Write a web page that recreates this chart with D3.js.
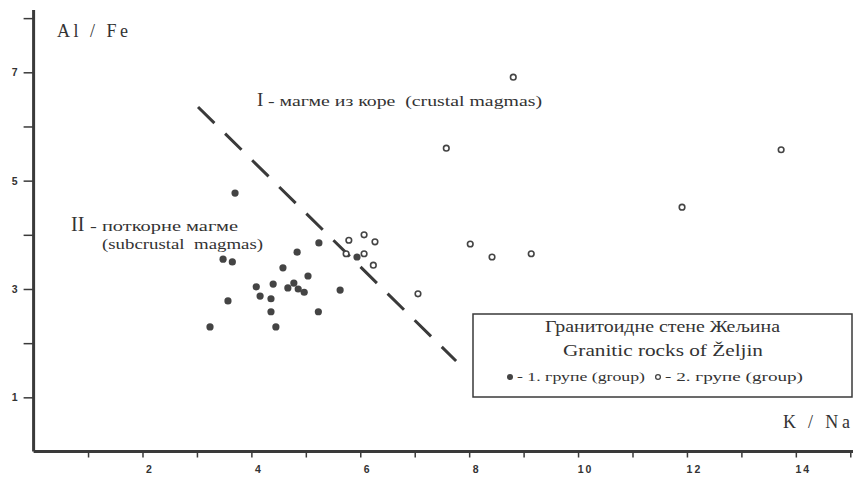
<!DOCTYPE html>
<html>
<head>
<meta charset="utf-8">
<script src="https://cdn.jsdelivr.net/npm/d3@7"></script>
<style>
  body { margin: 0; background: #fff; }
  svg { display: block; }
  .tick text { font-family: "Liberation Sans", Arial, sans-serif; font-weight: bold; font-size: 10.5px; fill: #333; }
  .lbl { font-family: "Liberation Serif", "Times New Roman", serif; fill: #333; }
</style>
</head>
<body>
<div id="chart"></div>
<script>
// data
// group 1 (filled dots): K/Na and Al/Fe
const group1K  = [3.70, 3.48, 3.65, 4.58, 4.84, 5.24, 5.04, 4.09, 4.40, 4.16, 4.36, 4.36, 4.67, 4.78, 4.86, 4.97, 3.57, 5.23, 3.24, 4.45, 5.63, 5.94];
const group1Al = [4.77, 3.55, 3.50, 3.39, 3.68, 3.85, 3.24, 3.04, 3.09, 2.87, 2.82, 2.58, 3.02, 3.11, 3.00, 2.94, 2.78, 2.58, 2.30, 2.30, 2.98, 3.59];
// group 2 (open dots)
const group2K  = [5.79, 6.07, 6.27, 5.74, 6.07, 6.24, 7.06, 7.58, 8.81, 13.73, 11.91, 8.02, 8.42, 9.14];
const group2Al = [3.90, 4.00, 3.87, 3.65, 3.65, 3.44, 2.91, 5.60, 6.91, 5.57, 4.51, 3.83, 3.59, 3.65];
// dashed boundary between crustal and subcrustal magmas
const dividerK  = [3.02, 7.76];
const dividerAl = [6.36, 1.67];
// axis ticks
const xTicks  = [1, 2, 3, 4, 5, 6, 7, 8, 9, 10, 11, 12, 13, 14, 15];
const xLabels = [2, 4, 6, 8, 10, 12, 14];
const yTicks  = [1, 2, 3, 4, 5, 6, 7, 8];
const yLabels = [1, 3, 5, 7];

var width = 856,
    height = 480,
    ink = "#3a3a3a";

var svg = d3.select("#chart")
  .append("svg")
    .attr("width", width)
    .attr("height", height);

var x = d3.scaleLinear().domain([0, 15.05]).range([33.6, 853]);
var y = d3.scaleLinear().domain([0, 8.15]).range([451.5, 10]);

// axes
var xAxis = svg.append("g")
    .attr("transform", "translate(0," + y(0) + ")")
    .call(d3.axisBottom(x)
      .tickValues(xTicks)
      .tickSize(6)
      .tickPadding(8)
      .tickFormat(function(d) { return xLabels.indexOf(d) >= 0 ? d : ""; }));
xAxis.select(".domain").attr("d", "M" + x(0) + ",0H" + x(15.05));
xAxis.selectAll(".tick text").attr("dx", 7).style("letter-spacing", "2px");

var yAxis = svg.append("g")
    .attr("transform", "translate(" + x(0) + ",0)")
    .call(d3.axisLeft(y)
      .tickValues(yTicks)
      .tickSize(10)
      .tickPadding(6)
      .tickFormat(function(d) { return yLabels.indexOf(d) >= 0 ? d : ""; }));
yAxis.select(".domain").attr("d", "M0," + y(0) + "V" + y(8.15));

svg.selectAll(".domain").attr("stroke", ink).attr("stroke-width", 3);
svg.selectAll(".tick line").attr("stroke", ink).attr("stroke-width", 1.5);

// axis titles
svg.append("text").attr("class", "lbl").attr("x", 57).attr("y", 37)
  .style("font-size", "18px").attr("textLength", 71).text("Al / Fe");
svg.append("text").attr("class", "lbl").attr("x", 783).attr("y", 428)
  .style("font-size", "18px").attr("textLength", 67).text("K / Na");

// dashed boundary
var line = d3.line().x(function(d) { return x(d[0]); }).y(function(d) { return y(d[1]); });
svg.append("path")
  .datum(d3.zip(dividerK, dividerAl))
  .attr("d", line)
  .attr("fill", "none")
  .attr("stroke", ink)
  .attr("stroke-width", 3)
  .attr("stroke-dasharray", "23,15");

// field labels
svg.append("text").attr("class", "lbl").attr("x", 257).attr("y", 106).style("font-size", "19px").text("I");
svg.append("text").attr("class", "lbl").attr("x", 268).attr("y", 106).style("font-size", "15px")
  .attr("textLength", 274).attr("lengthAdjust", "spacingAndGlyphs")
  .style("white-space", "pre").text("- магме из коре  (crustal magmas)");

svg.append("text").attr("class", "lbl").attr("x", 71).attr("y", 231).style("font-size", "20px").text("II");
svg.append("text").attr("class", "lbl").attr("x", 90).attr("y", 231).style("font-size", "15px")
  .attr("textLength", 148).attr("lengthAdjust", "spacingAndGlyphs").text("- поткорне магме");
svg.append("text").attr("class", "lbl").attr("x", 102).attr("y", 249).style("font-size", "14px")
  .attr("textLength", 161).attr("lengthAdjust", "spacingAndGlyphs")
  .style("white-space", "pre").text("(subcrustal  magmas)");

// points
svg.selectAll("circle.g1")
  .data(d3.zip(group1K, group1Al))
  .enter()
  .append("circle")
    .attr("class", "g1")
    .attr("cx", function(d) { return x(d[0]); })
    .attr("cy", function(d) { return y(d[1]); })
    .attr("r", 3.6)
    .style("fill", "#444");

svg.selectAll("circle.g2")
  .data(d3.zip(group2K, group2Al))
  .enter()
  .append("circle")
    .attr("class", "g2")
    .attr("cx", function(d) { return x(d[0]); })
    .attr("cy", function(d) { return y(d[1]); })
    .attr("r", 2.8)
    .style("fill", "#fff")
    .style("stroke", "#444")
    .style("stroke-width", 1.6);

// legend box
svg.append("rect")
  .attr("x", 473).attr("y", 314).attr("width", 379).attr("height", 83)
  .attr("fill", "#fff").attr("stroke", ink).attr("stroke-width", 1.5);
svg.append("text").attr("class", "lbl").attr("x", 545).attr("y", 332).style("font-size", "16px")
  .attr("textLength", 235).attr("lengthAdjust", "spacingAndGlyphs").text("Гранитоидне стене Жељина");
svg.append("text").attr("class", "lbl").attr("x", 563).attr("y", 356).style("font-size", "16px")
  .attr("textLength", 200).attr("lengthAdjust", "spacingAndGlyphs").text("Granitic rocks of Željin");

svg.append("circle").attr("cx", 510).attr("cy", 377).attr("r", 3).style("fill", "#444");
svg.append("text").attr("class", "lbl").attr("x", 517).attr("y", 381).style("font-size", "13px")
  .attr("textLength", 128).attr("lengthAdjust", "spacingAndGlyphs").text("- 1. групе (group)");
svg.append("circle").attr("cx", 658).attr("cy", 377).attr("r", 2.4)
  .style("fill", "#fff").style("stroke", "#444").style("stroke-width", 1.3);
svg.append("text").attr("class", "lbl").attr("x", 665).attr("y", 381).style("font-size", "13px")
  .attr("textLength", 138).attr("lengthAdjust", "spacingAndGlyphs").text("- 2. групе (group)");
</script>
</body>
</html>
